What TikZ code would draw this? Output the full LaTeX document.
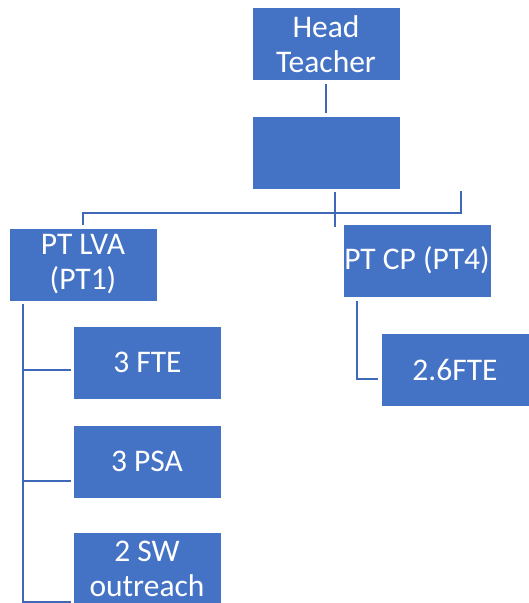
\documentclass[tikz,border=0pt]{standalone}
\usepackage{fontspec}
\setmainfont{Carlito}
\definecolor{boxblue}{HTML}{4472C4}
\definecolor{lineblue}{HTML}{4068B8}
\begin{document}
\begin{tikzpicture}[x=1pt,y=1pt,
  orgbox/.style={rectangle, fill=boxblue, draw=white, line width=0.8pt,
    minimum width=148pt, minimum height=73pt, inner sep=0pt,
    text=white, align=center, font=\fontsize{31.5}{35}\selectfont},
  conn/.style={draw=lineblue, line width=2pt}]
\useasboundingbox (0,0) rectangle (529,603);
\clip (0,0) rectangle (529,603);
\node[orgbox] (ht) at (326,559) {Head\\Teacher};
\node[orgbox] (blank) at (326,450.5) {};
\node[orgbox] (lva) at (83,338.5) {PT LVA\\(PT1)};
\node[orgbox] (cp) at (417,342.5) {PT CP (PT4)};
\node[orgbox] (fte) at (147.5,240.5) {3 FTE};
\node[orgbox] (psa) at (147,141.5) {3 PSA};
\node[orgbox] (sw) at (147,34.5) {2 SW\\outreach};
\node[orgbox] (fte26) at (455,233) {2.6FTE};
\coordinate (rend) at (461,412);
\coordinate (ljoin) at (23,1);
\draw[conn] ([yshift=-3pt]ht.south) -- ([yshift=3pt]blank.north);
\draw[conn] ([xshift=9pt,yshift=-3pt]blank.south) -- ++(0,-35);
\draw[conn] ([yshift=3pt]lva.north) |- (rend |- 0,390) -- (rend);
\draw[conn] ([xshift=-60pt,yshift=-3pt]lva.south) -- (ljoin) -- ([xshift=-2pt]ljoin -| sw.west);
\draw[conn] (ljoin |- fte.west) ++(0,-7.5) -- ([xshift=-2pt,yshift=-7.5pt]fte.west);
\draw[conn] (ljoin |- psa.west) ++(0,-20) -- ([xshift=-2pt,yshift=-20pt]psa.west);
\draw[conn] ([xshift=-60pt,yshift=-4pt]cp.south) |- ([xshift=-3pt,yshift=-9pt]fte26.west);
\end{tikzpicture}
\end{document}
